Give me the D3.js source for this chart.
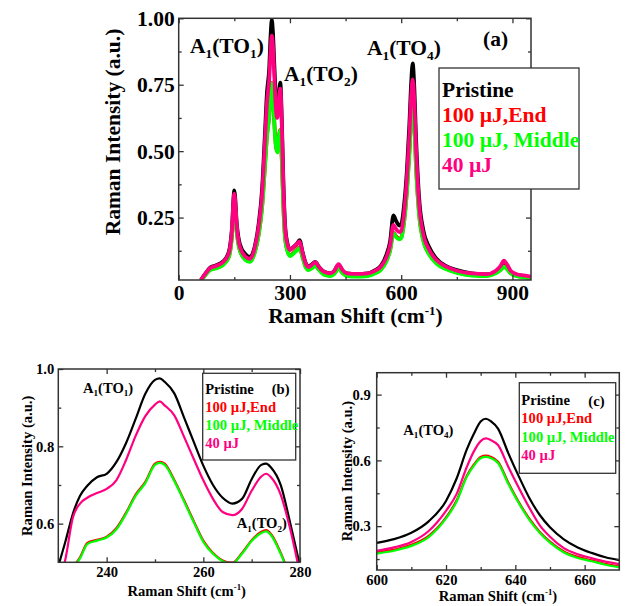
<!DOCTYPE html>
<html>
<head>
<meta charset="utf-8">
<script src="https://cdn.jsdelivr.net/npm/d3@7"></script>
<style>
  html, body { margin: 0; padding: 0; background: #fff; }
  svg { display: block; }
</style>
</head>
<body>
<svg id="chart" width="630" height="606"></svg>
<script>
// ---------- Full Raman spectrum (panel a) ----------
const shiftA = [60, 70, 85, 100, 120, 135, 143, 150, 157, 165, 180, 192, 205, 215, 225,
  232, 238, 244, 248, 251, 254, 258, 262, 266, 270, 274, 278, 282, 287, 293,
  300, 310, 318, 326, 334, 342, 350, 360, 368, 378, 392, 409, 420, 431, 442,
  454, 480, 510, 530, 545, 560, 570, 579, 587, 595, 600, 608, 615, 622, 627,
  631, 635, 640, 648, 660, 675, 695, 720, 750, 790, 830, 855, 868, 877, 886,
  895, 910, 930, 950];
const pristineA = [0.015, 0.035, 0.062, 0.07, 0.085, 0.12, 0.2, 0.352, 0.22, 0.15, 0.112, 0.102, 0.14, 0.22, 0.36,
  0.55, 0.72, 0.81, 0.94, 0.995, 0.95, 0.82, 0.7, 0.655, 0.71, 0.758, 0.62, 0.4, 0.22, 0.155,
  0.13, 0.14, 0.15, 0.165, 0.12, 0.08, 0.066, 0.075, 0.083, 0.065, 0.046, 0.04, 0.05, 0.072, 0.05,
  0.04, 0.038, 0.04, 0.052, 0.068, 0.11, 0.16, 0.258, 0.235, 0.22, 0.225, 0.3, 0.42, 0.6, 0.76,
  0.83, 0.75, 0.55, 0.33, 0.2, 0.14, 0.095, 0.068, 0.052, 0.04, 0.036, 0.045, 0.058, 0.072, 0.06,
  0.045, 0.035, 0.03, 0.026];
const endA = [0.013, 0.031, 0.054, 0.06, 0.074, 0.102, 0.172, 0.31, 0.192, 0.127, 0.092, 0.085, 0.12, 0.182, 0.292,
  0.432, 0.558, 0.632, 0.712, 0.757, 0.733, 0.605, 0.524, 0.498, 0.553, 0.58, 0.472, 0.302, 0.172, 0.127,
  0.108, 0.118, 0.128, 0.138, 0.102, 0.066, 0.054, 0.062, 0.07, 0.055, 0.037, 0.032, 0.04, 0.06, 0.042,
  0.032, 0.03, 0.032, 0.042, 0.055, 0.088, 0.128, 0.193, 0.178, 0.17, 0.175, 0.238, 0.345, 0.495, 0.625,
  0.675, 0.615, 0.445, 0.27, 0.163, 0.114, 0.079, 0.058, 0.044, 0.034, 0.032, 0.042, 0.054, 0.067, 0.057,
  0.042, 0.032, 0.027, 0.024];
const middleA = [0.012, 0.03, 0.052, 0.058, 0.072, 0.1, 0.17, 0.305, 0.19, 0.125, 0.09, 0.083, 0.118, 0.18, 0.29,
  0.43, 0.555, 0.63, 0.71, 0.755, 0.73, 0.6, 0.52, 0.495, 0.55, 0.578, 0.47, 0.3, 0.17, 0.125,
  0.105, 0.115, 0.125, 0.135, 0.1, 0.064, 0.052, 0.06, 0.068, 0.053, 0.035, 0.03, 0.038, 0.058, 0.04,
  0.03, 0.028, 0.03, 0.04, 0.053, 0.085, 0.125, 0.19, 0.175, 0.168, 0.172, 0.235, 0.34, 0.49, 0.62,
  0.67, 0.61, 0.44, 0.265, 0.16, 0.112, 0.077, 0.056, 0.042, 0.032, 0.03, 0.04, 0.052, 0.065, 0.055,
  0.04, 0.03, 0.025, 0.022];
const fortyA = [0.015, 0.035, 0.06, 0.068, 0.083, 0.115, 0.19, 0.34, 0.21, 0.14, 0.103, 0.095, 0.135, 0.21, 0.34,
  0.52, 0.68, 0.77, 0.88, 0.935, 0.9, 0.78, 0.66, 0.625, 0.69, 0.735, 0.6, 0.38, 0.21, 0.15,
  0.128, 0.14, 0.15, 0.16, 0.118, 0.078, 0.064, 0.073, 0.082, 0.064, 0.046, 0.04, 0.05, 0.075, 0.052,
  0.04, 0.038, 0.04, 0.05, 0.065, 0.1, 0.145, 0.222, 0.205, 0.195, 0.2, 0.27, 0.39, 0.56, 0.71,
  0.77, 0.7, 0.51, 0.305, 0.185, 0.13, 0.09, 0.066, 0.05, 0.04, 0.037, 0.05, 0.068, 0.088, 0.072,
  0.05, 0.038, 0.032, 0.028];

// ---------- A1(TO1) / A1(TO2) region (panel b) ----------
const shiftB = [230, 231.5, 233, 234.5, 236, 238, 240, 242, 244, 246, 248, 250, 251, 252, 254,
  256, 258, 260, 262, 264, 266, 268, 270, 272, 273, 274, 276, 278, 280];
const pristineB = [0.49, 0.555, 0.625, 0.672, 0.698, 0.72, 0.729, 0.759, 0.808, 0.871, 0.936, 0.972, 0.976, 0.967, 0.937,
  0.875, 0.812, 0.75, 0.7, 0.667, 0.652, 0.664, 0.715, 0.752, 0.755, 0.745, 0.7, 0.6, 0.49];
const endB = [0.432, 0.462, 0.488, 0.513, 0.55, 0.558, 0.566, 0.588, 0.628, 0.675, 0.708, 0.755, 0.76, 0.755, 0.713,
  0.661, 0.607, 0.556, 0.524, 0.505, 0.499, 0.524, 0.557, 0.579, 0.583, 0.573, 0.525, 0.463, 0.403];
const middleB = [0.43, 0.46, 0.485, 0.51, 0.547, 0.556, 0.564, 0.585, 0.625, 0.672, 0.705, 0.752, 0.757, 0.752, 0.71,
  0.658, 0.604, 0.553, 0.522, 0.503, 0.497, 0.522, 0.555, 0.576, 0.58, 0.57, 0.522, 0.46, 0.4];
const fortyB = [0.44, 0.51, 0.615, 0.652, 0.667, 0.679, 0.69, 0.712, 0.764, 0.827, 0.878, 0.908, 0.916, 0.906, 0.88,
  0.825, 0.768, 0.712, 0.664, 0.63, 0.622, 0.638, 0.685, 0.722, 0.729, 0.72, 0.675, 0.585, 0.47];

// ---------- A1(TO4) region (panel c) ----------
const shiftC = [600, 605, 610, 615, 620, 623, 626, 628, 630, 631.5, 633, 635, 638, 641, 644,
  647, 650, 654, 658, 662, 666, 670];
const pristineC = [0.224, 0.241, 0.27, 0.322, 0.415, 0.515, 0.65, 0.72, 0.777, 0.79, 0.778, 0.745, 0.632, 0.527, 0.43,
  0.352, 0.295, 0.24, 0.203, 0.178, 0.158, 0.145];
const endC = [0.18, 0.193, 0.215, 0.256, 0.34, 0.416, 0.53, 0.58, 0.616, 0.622, 0.616, 0.594, 0.498, 0.41, 0.335,
  0.275, 0.23, 0.185, 0.16, 0.144, 0.128, 0.116];
const middleC = [0.175, 0.188, 0.21, 0.25, 0.335, 0.41, 0.525, 0.575, 0.61, 0.616, 0.61, 0.588, 0.492, 0.405, 0.33,
  0.27, 0.225, 0.18, 0.155, 0.14, 0.124, 0.112];
const fortyC = [0.187, 0.203, 0.228, 0.278, 0.37, 0.445, 0.57, 0.64, 0.688, 0.70, 0.692, 0.67, 0.57, 0.475, 0.385,
  0.305, 0.252, 0.2, 0.172, 0.154, 0.138, 0.127];

// ---------- Legend entries ----------
const seriesNames = ["Pristine", "100 \u00B5J,End", "100 \u00B5J, Middle", "40 \u00B5J"];
const seriesColors = ["#000000", "#ff0000", "#00ff00", "#ff0080"];

// ---------- Tick values ----------
const xTicksA = [0, 300, 600, 900], xMinorA = [150, 450, 750];
const yTicksA = [0.25, 0.50, 0.75, 1.00], yMinorA = [0.125, 0.375, 0.625, 0.875];
const xTicksB = [240, 260, 280], xMinorB = [250, 270];
const yTicksB = [0.6, 0.8, 1.0], yMinorB = [0.7, 0.9];
const xTicksC = [600, 620, 640, 660], xMinorC = [610, 630, 650];
const yTicksC = [0.3, 0.6, 0.9], yMinorC = [0.15, 0.45, 0.75];

const FONT = "'Liberation Serif', 'Times New Roman', Times, serif";
const AXIS_COLOR = "#333";
const svg = d3.select("#chart");
const defs = svg.append("defs");

// Text helpers: A1(TOn) labels and the Raman-shift title with a superscript
function peakLabel(parent, x, y, n, size) {
  const t = parent.append("text").attr("x", x).attr("y", y)
    .attr("font-family", FONT).attr("font-weight", "bold").attr("font-size", size).attr("fill", "#000");
  const sub = size * 0.62, drop = size * 0.22;
  t.append("tspan").text("A");
  t.append("tspan").attr("font-size", sub).attr("dy", drop).text("1");
  t.append("tspan").attr("dy", -drop).text("(TO");
  t.append("tspan").attr("font-size", sub).attr("dy", drop).text(n);
  t.append("tspan").attr("dy", -drop).text(")");
  return t;
}
function shiftTitle(parent, x, y, size) {
  const t = parent.append("text").attr("x", x).attr("y", y).attr("text-anchor", "middle")
    .attr("font-family", FONT).attr("font-weight", "bold").attr("font-size", size).attr("fill", "#000");
  const rise = size * 0.38;
  t.append("tspan").text("Raman Shift (cm");
  t.append("tspan").attr("font-size", size * 0.6).attr("dy", -rise).text("-1");
  t.append("tspan").attr("dy", rise).text(")");
  return t;
}

function drawPanel(c) {
  const g = svg.append("g").attr("transform", `translate(${c.left},${c.top})`);
  const x = d3.scaleLinear().domain(c.xDomain).range([0, c.width]);
  const y = d3.scaleLinear().domain(c.yDomain).range([c.height, 0]);

  const clipId = "clip-" + c.id;
  defs.append("clipPath").attr("id", clipId)
    .append("rect").attr("width", c.width).attr("height", c.height);

  const line = d3.line().x(d => x(d[0])).y(d => y(d[1])).curve(d3.curveMonotoneX);
  const plot = g.append("g").attr("clip-path", `url(#${clipId})`);
  c.series.forEach((vals, i) => {
    plot.append("path")
      .datum(c.shift.map((s, j) => [s, vals[j]]))
      .attr("fill", "none")
      .attr("stroke", seriesColors[i])
      .attr("stroke-width", c.lineWidth)
      .attr("stroke-linejoin", "round")
      .attr("d", line);
  });

  const style = sel => {
    sel.attr("font-family", FONT).attr("font-size", c.fontSize).attr("font-weight", "bold");
    sel.selectAll(".domain").remove();
    sel.selectAll(".tick line").attr("stroke", AXIS_COLOR).attr("stroke-width", 1.3);
    sel.selectAll(".tick text").attr("fill", "#000");
  };
  const none = () => "";

  // major ticks with labels (bottom / left), mirrored ticks on top / right
  g.append("g").attr("transform", `translate(0,${c.height})`)
    .call(d3.axisBottom(x).tickValues(c.xTicks).tickSizeInner(-5).tickSizeOuter(0).tickPadding(c.padX).tickFormat(c.xFmt)).call(style);
  g.append("g").attr("transform", `translate(0,${c.height})`)
    .call(d3.axisBottom(x).tickValues(c.xMinor).tickSizeInner(-3).tickSizeOuter(0).tickFormat(none)).call(style);
  g.append("g")
    .call(d3.axisTop(x).tickValues(c.xTicks).tickSizeInner(-5).tickSizeOuter(0).tickFormat(none)).call(style);
  g.append("g")
    .call(d3.axisTop(x).tickValues(c.xMinor).tickSizeInner(-3).tickSizeOuter(0).tickFormat(none)).call(style);

  g.append("g")
    .call(d3.axisLeft(y).tickValues(c.yTicks).tickSizeInner(-5).tickSizeOuter(0).tickPadding(c.padY).tickFormat(c.yFmt)).call(style);
  g.append("g")
    .call(d3.axisLeft(y).tickValues(c.yMinor).tickSizeInner(-3).tickSizeOuter(0).tickFormat(none)).call(style);
  g.append("g").attr("transform", `translate(${c.width},0)`)
    .call(d3.axisRight(y).tickValues(c.yTicks).tickSizeInner(-5).tickSizeOuter(0).tickFormat(none)).call(style);
  g.append("g").attr("transform", `translate(${c.width},0)`)
    .call(d3.axisRight(y).tickValues(c.yMinor).tickSizeInner(-3).tickSizeOuter(0).tickFormat(none)).call(style);

  g.append("rect").attr("width", c.width).attr("height", c.height)
    .attr("fill", "none").attr("stroke", AXIS_COLOR).attr("stroke-width", 1.5);

  // axis titles
  shiftTitle(svg, c.xTitle[0], c.xTitle[1], c.fontSize);
  svg.append("text")
    .attr("transform", `translate(${c.yTitle[0]},${c.yTitle[1]}) rotate(-90)`)
    .attr("text-anchor", "middle")
    .attr("font-family", FONT).attr("font-weight", "bold").attr("font-size", c.fontSize).attr("fill", "#000")
    .text("Raman Intensity (a.u.)");

  // legend box
  const L = c.legend;
  svg.append("rect").attr("x", L.x).attr("y", L.y).attr("width", L.w).attr("height", L.h)
    .attr("fill", "#fff").attr("stroke", AXIS_COLOR).attr("stroke-width", 1.3);
  seriesNames.forEach((name, i) => {
    svg.append("text").attr("x", L.x + L.tx).attr("y", L.y0 + i * L.dy)
      .attr("font-family", FONT).attr("font-weight", "bold").attr("font-size", c.fontSize)
      .attr("fill", seriesColors[i]).text(name);
  });

  // panel letter
  svg.append("text").attr("x", c.tag[0]).attr("y", c.tag[1])
    .attr("font-family", FONT).attr("font-weight", "bold").attr("font-size", c.fontSize)
    .attr("fill", "#000").text(c.tagText);

  return { g, x, y };
}

const seriesOrderA = [pristineA, endA, middleA, fortyA];
const seriesOrderB = [pristineB, endB, middleB, fortyB];
const seriesOrderC = [pristineC, endC, middleC, fortyC];

drawPanel({
  id: "a", left: 178.7, top: 18.3, width: 352.3, height: 261.7,
  xDomain: [0, 950], yDomain: [0.015, 1.0],
  xTicks: xTicksA, xMinor: xMinorA, yTicks: yTicksA, yMinor: yMinorA,
  xFmt: d3.format("d"), yFmt: d3.format(".2f"),
  padX: 4.5, padY: 4, fontSize: 21.5, lineWidth: 3.8,
  shift: shiftA, series: seriesOrderA,
  xTitle: [355.5, 323], yTitle: [120, 132],
  legend: { x: 439, y: 68, w: 140, h: 121, tx: 3, y0: 97, dy: 25 },
  tag: [483, 46], tagText: "(a)"
});
peakLabel(svg, 190, 53, "1", 21.5);
peakLabel(svg, 284, 81, "2", 21.5);
peakLabel(svg, 367, 55, "4", 21.5);

drawPanel({
  id: "b", left: 58.3, top: 369, width: 241.7, height: 193.3,
  xDomain: [230, 280], yDomain: [0.5, 1.0],
  xTicks: xTicksB, xMinor: xMinorB, yTicks: yTicksB, yMinor: yMinorB,
  xFmt: d3.format("d"), yFmt: d3.format(".1f"),
  padX: 4, padY: 4, fontSize: 14.6, lineWidth: 2.2,
  shift: shiftB, series: seriesOrderB,
  xTitle: [186.7, 596], yTitle: [31.5, 465.8],
  legend: { x: 202.7, y: 373.3, w: 93, h: 86.7, tx: 2.5, y0: 393.5, dy: 18.3 },
  tag: [271.7, 393.5], tagText: "(b)"
});
peakLabel(svg, 83, 393, "1", 14.6);
peakLabel(svg, 236.7, 528.3, "2", 14.6);

drawPanel({
  id: "c", left: 376.7, top: 372.7, width: 242.6, height: 197.3,
  xDomain: [600, 670], yDomain: [0.1, 1.0],
  xTicks: xTicksC, xMinor: xMinorC, yTicks: yTicksC, yMinor: yMinorC,
  xFmt: d3.format("d"), yFmt: d3.format(".1f"),
  padX: 4.3, padY: 6, fontSize: 14.6, lineWidth: 2.2,
  shift: shiftC, series: seriesOrderC,
  xTitle: [498, 601], yTitle: [351.5, 471],
  legend: { x: 519.3, y: 382.7, w: 96.4, h: 90.6, tx: 2, y0: 404.5, dy: 18.5 },
  tag: [588.3, 406], tagText: "(c)"
});
peakLabel(svg, 403.3, 435, "4", 14.6);
</script>
</body>
</html>
